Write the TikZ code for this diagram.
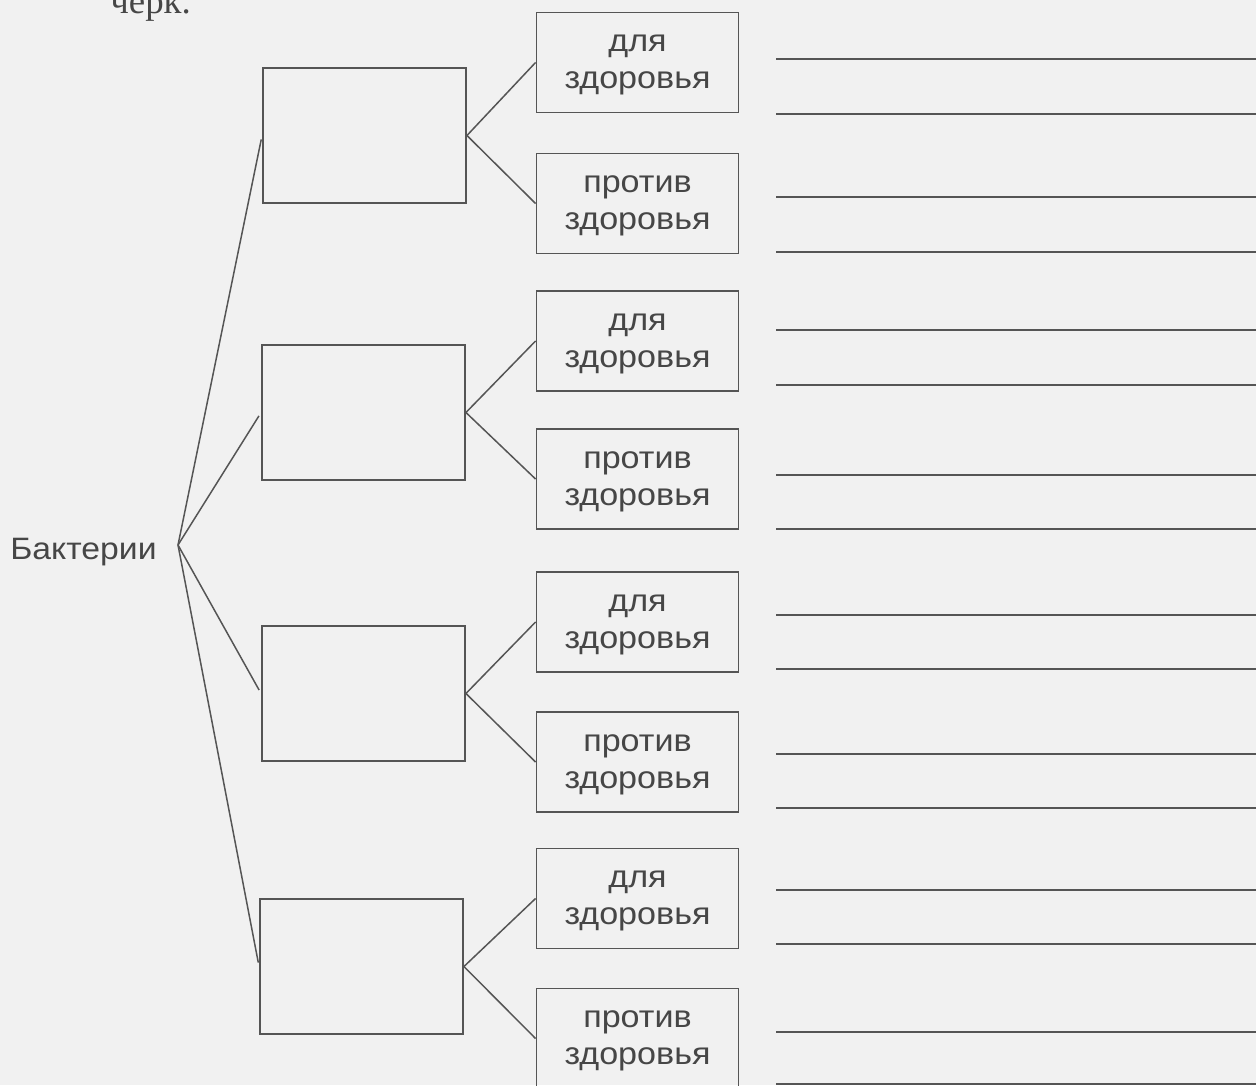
\documentclass[tikz,border=0pt]{standalone}
\usepackage{fontspec}
\setmainfont{Liberation Sans}
\newfontfamily\labelfont[FakeStretch=1.09]{Liberation Sans}
\newfontfamily\serifru{Liberation Serif}
\definecolor{pagebg}{HTML}{F1F1F1}
\definecolor{linegray}{HTML}{555555}
\definecolor{textgray}{HTML}{464646}
\newcommand{\topstrut}{\rule{0pt}{0.44cm}}
\begin{document}
\begin{tikzpicture}[x=0.02cm,y=-0.02cm,
  conn/.style={draw=linegray,line width=0.85pt},
  lbox/.style={draw=linegray,line width=1.1pt,minimum width=4.06cm,minimum height=2.70cm,inner sep=0pt},
  rbox/.style={draw=linegray,line width=1.1pt,minimum width=4.04cm,minimum height=2.0cm,inner sep=0pt,
    align=center,text=textgray,font=\labelfont\fontsize{17.8pt}{21pt}\selectfont},
  rule/.style={draw=linegray,line width=1.1pt}]
\useasboundingbox (0,0) rectangle (1256,1085);
\clip (0,0) rectangle (1256,1085);
\fill[pagebg] (0,0) rectangle (1256,1085);

% heading fragment (cut off by the top edge, as in the reference)
\node[anchor=base west,inner sep=0pt,text=textgray,font=\serifru\fontsize{21pt}{25pt}\selectfont] (head) at (110,13) {черк.};

% root label
\node[anchor=base west,inner sep=0pt,text=textgray,font=\labelfont\fontsize{17.6pt}{21pt}\selectfont] (bact) at (10,559) {Бактерии};
\coordinate (j) at (178,545);

% left boxes
\node[lbox] (b1) at (364.5,135.5) {};
\node[lbox] (b2) at (363.5,412.5) {};
\node[lbox] (b3) at (363.5,693.5) {};
\node[lbox] (b4) at (361.5,966.5) {};

% right boxes
\node[rbox] (d1) at (637.5,62.5) {\topstrut для\\здоровья};
\node[rbox] (p1) at (637.5,203.5) {\topstrut против\\здоровья};
\node[rbox] (d2) at (637.5,341) {\topstrut для\\здоровья};
\node[rbox] (p2) at (637.5,479) {\topstrut против\\здоровья};
\node[rbox] (d3) at (637.5,622) {\topstrut для\\здоровья};
\node[rbox] (p3) at (637.5,762) {\topstrut против\\здоровья};
\node[rbox] (d4) at (637.5,898.5) {\topstrut для\\здоровья};
\node[rbox] (p4) at (637.5,1038.5) {\topstrut против\\здоровья};

% connectors from root
\foreach \b in {b1,b2,b3,b4}
  \draw[conn,shorten >=0.08cm] (j) -- (\b.west);

% connectors to right boxes
\draw[conn] (b1.east) -- (d1.west);
\draw[conn] (b1.east) -- (p1.west);
\draw[conn] (b2.east) -- (d2.west);
\draw[conn] (b2.east) -- (p2.west);
\draw[conn] (b3.east) -- (d3.west);
\draw[conn] (b3.east) -- (p3.west);
\draw[conn] (b4.east) -- (d4.west);
\draw[conn] (b4.east) -- (p4.west);

% answer lines
\foreach \y in {59,114,197,252,330,385,475,529,615,669,754,808,890,944,1032,1084}
  \draw[rule] (776,\y) -- (1256,\y);
\end{tikzpicture}
\end{document}
